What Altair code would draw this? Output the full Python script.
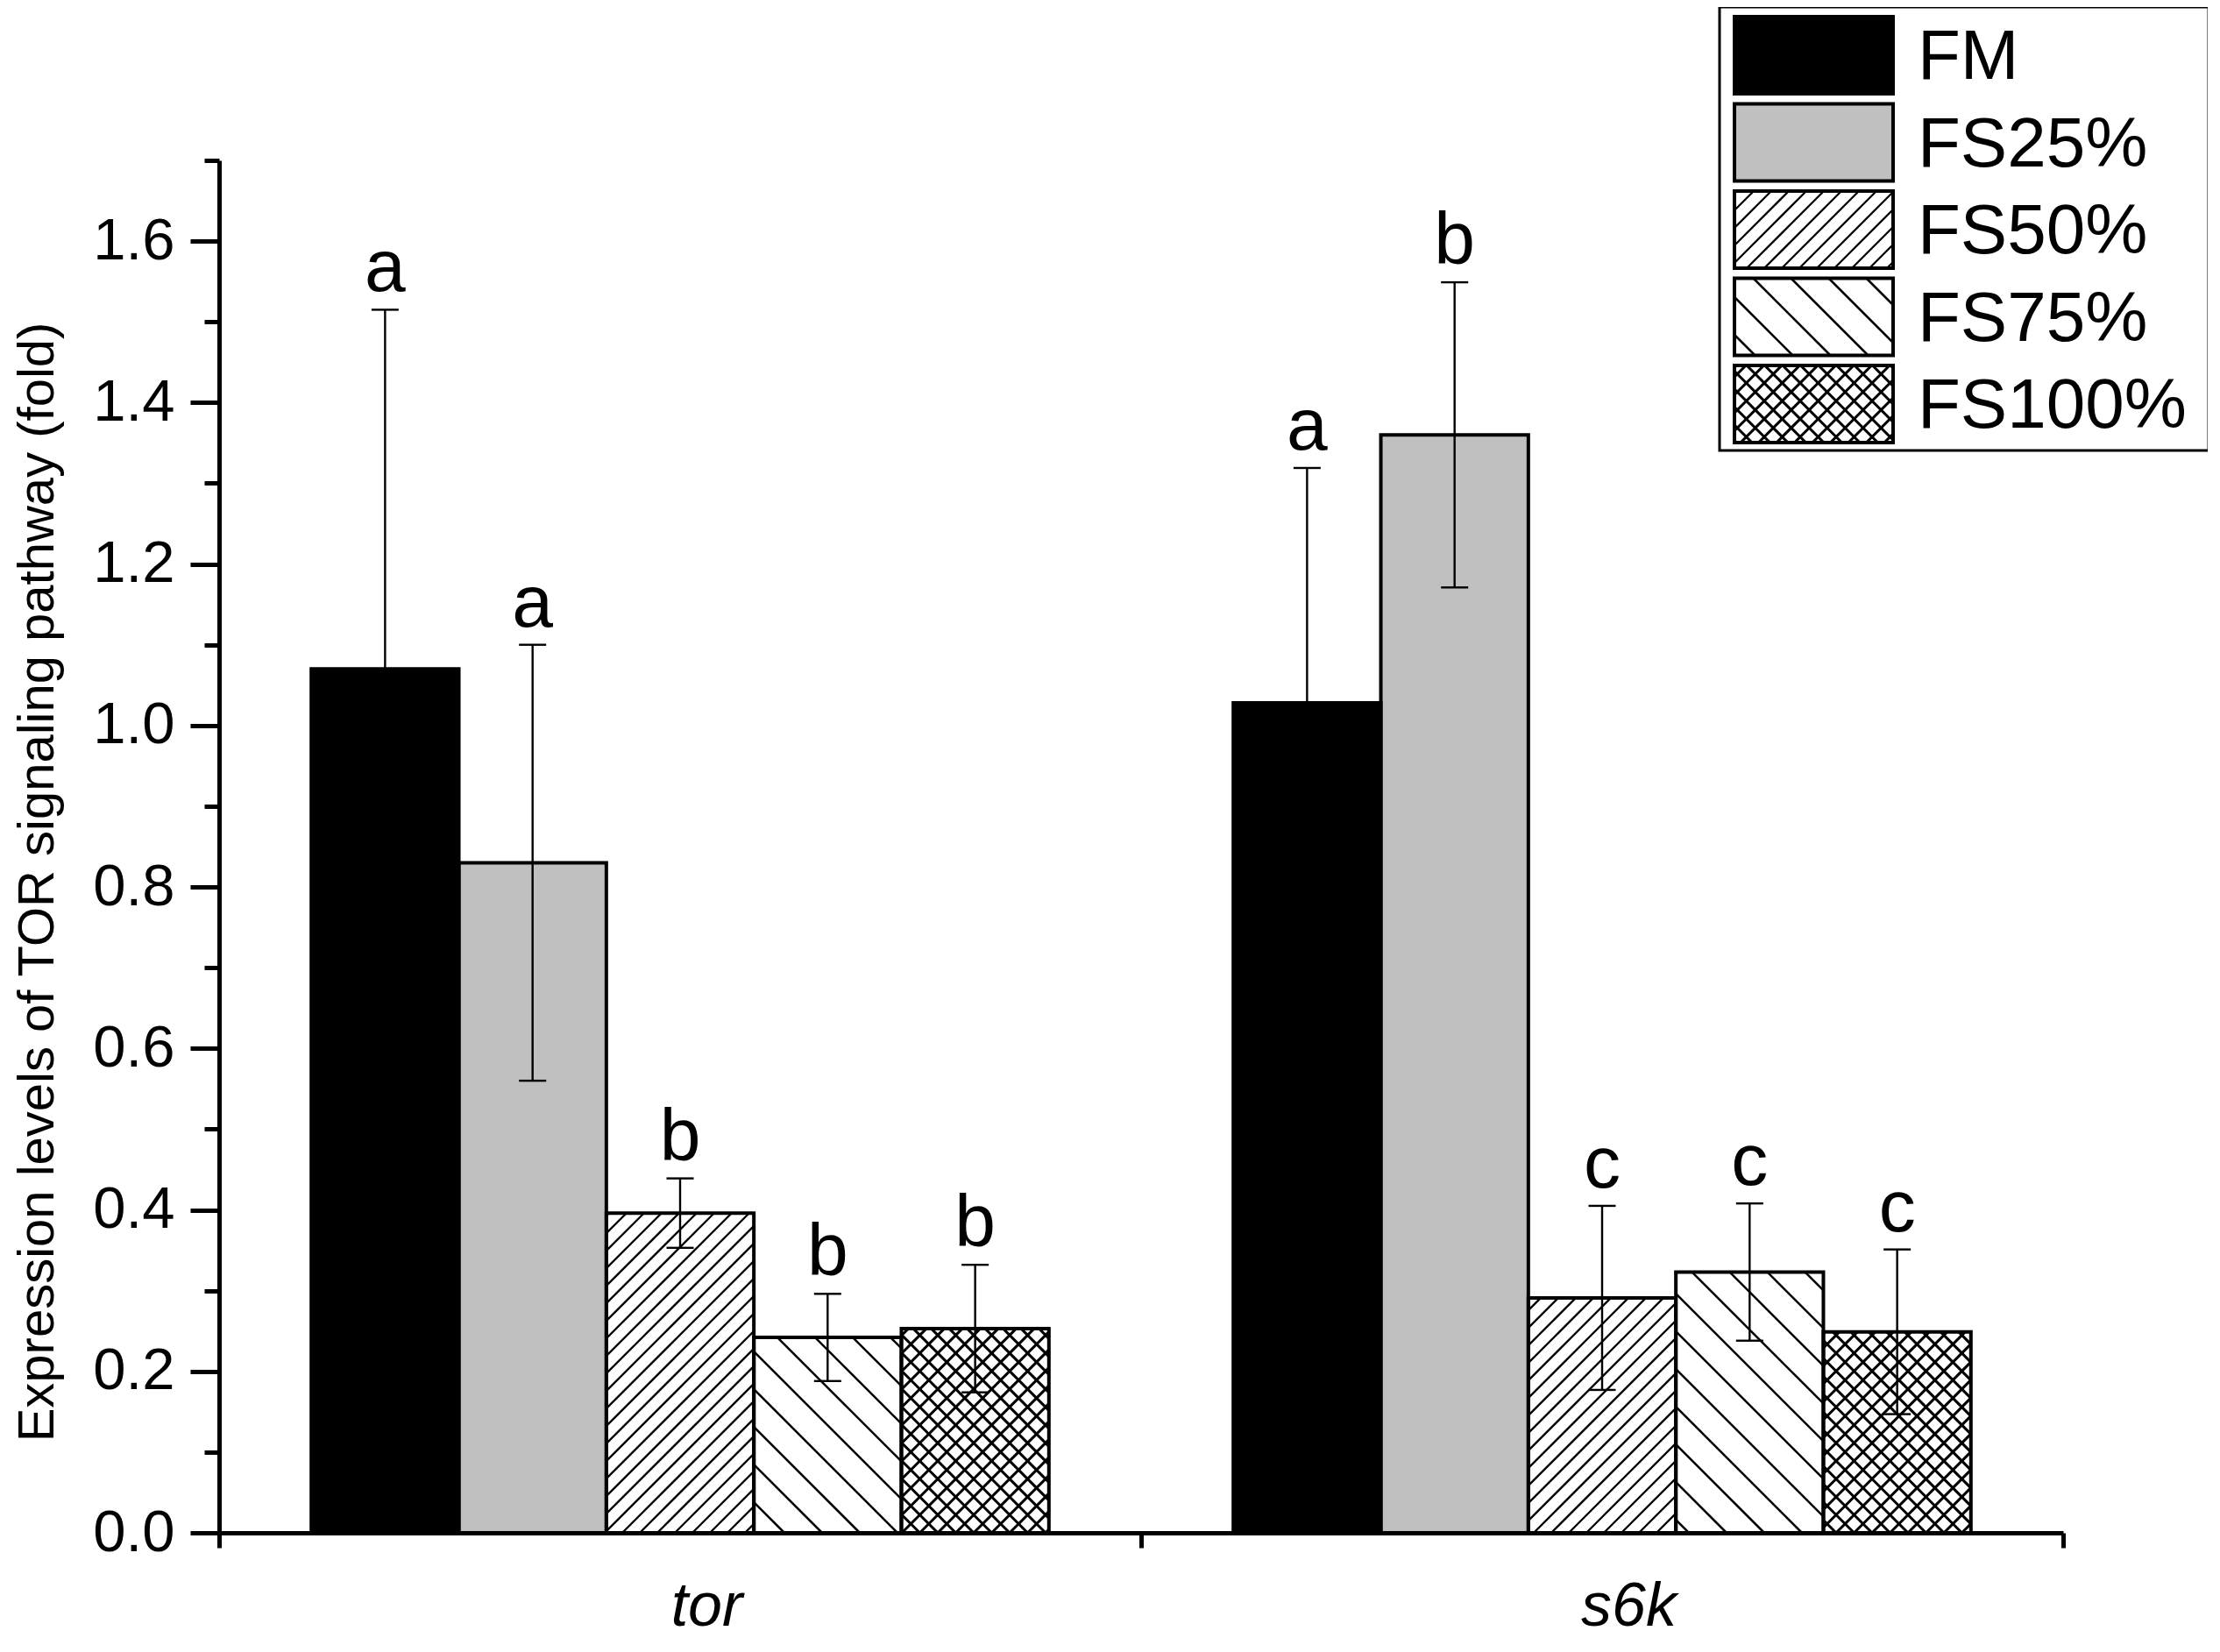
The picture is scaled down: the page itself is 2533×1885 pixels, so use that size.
import math
import altair as alt
import pandas as pd

# ---------------- data ----------------
genes = ["tor", "s6k"]
groups = ["FM", "FS25%", "FS50%", "FS75%", "FS100%"]
mean_tor = [1.070, 0.830, 0.396, 0.242, 0.253]
mean_s6k = [1.028, 1.360, 0.291, 0.323, 0.249]
err_tor = [0.445, 0.270, 0.043, 0.054, 0.079]
err_s6k = [0.291, 0.189, 0.114, 0.085, 0.102]
letters_tor = ["a", "a", "b", "b", "b"]
letters_s6k = ["a", "b", "c", "c", "c"]
y_ticks = [round(0.1 * i, 1) for i in range(18)]
y_title = "Expression levels of TOR signaling pathway (fold)"

# ---------------- styles / layout ----------------
PLOT_W, PLOT_H = 2104, 1566
X_MAX, Y_MAX = 2.0, 1.7
KX, KY = PLOT_W / X_MAX, PLOT_H / Y_MAX
PAD_OUTER, BAR_W = 0.1, 0.16
FONT = "Liberation Sans"
fills = ["#000000", "#c0c0c0", "#ffffff", "#ffffff", "#ffffff"]
hatches = [[], [], [("/", 20, 2.3)], [("\\", 43, 2.5)],
           [("/", 20.5, 3.1), ("\\", 20.5, 3.1)]]


def hatch_segments(x0, x1, y0, y1, kind, spacing, width):
    """Clip 45-degree hatch lines (in pixel space) to a rectangle given in data units."""
    X0, X1, Y0, Y1 = x0 * KX, x1 * KX, y0 * KY, y1 * KY
    out = []
    if kind == "/":
        c = math.floor((X0 - Y1) / spacing) * spacing
        while c <= X1 - Y0:
            xs, xe = max(X0, Y0 + c), min(X1, Y1 + c)
            if xe - xs > 0.5:
                out.append(dict(x=xs / KX, y=(xs - c) / KY, x2=xe / KX, y2=(xe - c) / KY, sw=width))
            c += spacing
    else:
        c = math.floor((X0 + Y0) / spacing) * spacing
        while c <= X1 + Y1:
            xs, xe = max(X0, c - Y1), min(X1, c - Y0)
            if xe - xs > 0.5:
                out.append(dict(x=xs / KX, y=(c - xs) / KY, x2=xe / KX, y2=(c - xe) / KY, sw=width))
            c += spacing
    return out


means = [mean_tor, mean_s6k]
errs = [err_tor, err_s6k]
letters = [letters_tor, letters_s6k]

bar_rows, hatch_rows, cap_rows = [], [], []
for g, gene in enumerate(genes):
    for i, grp in enumerate(groups):
        left = g + PAD_OUTER + BAR_W * i
        right = left + BAR_W
        m, e = means[g][i], errs[g][i]
        c = (left + right) / 2
        bar_rows.append(dict(gene=gene, group=grp, x=left, x2=right, y=0.0, y2=m,
                             xc=c, lo=m - e, hi=m + e, letter=letters[g][i], fill=fills[i]))
        cap_rows += [dict(xc=c, y=m - e), dict(xc=c, y=m + e)]
        for kind, sp, w in hatches[i]:
            hatch_rows += hatch_segments(left, right, 0.0, m, kind, sp, w)

bars = pd.DataFrame(bar_rows)
hatch_df = pd.DataFrame(hatch_rows)
caps = pd.DataFrame(cap_rows)


# legend, laid out in pixels relative to the plot's top-left corner
def px_x(p):
    return p / KX


def px_y(p):
    return Y_MAX - p / KY


LEG_BOX = (1712, 2270, -175, 331)
SW_X0, SW_X1, LBL_X = 1729, 1910, 1938
ROW_TOP0, ROW_PITCH, ROW_H, BASE_OFF = -164, 99.5, 88, 71

leg_rows, leg_hatch = [], []
for i, grp in enumerate(groups):
    top = ROW_TOP0 + ROW_PITCH * i
    x0, x1 = px_x(SW_X0), px_x(SW_X1)
    yb, yt = px_y(top + ROW_H), px_y(top)
    leg_rows.append(dict(group=grp, x=x0, x2=x1, y=yb, y2=yt, fill=fills[i],
                         tx=px_x(LBL_X), ty=px_y(top + BASE_OFF)))
    for kind, sp, w in hatches[i]:
        leg_hatch += hatch_segments(x0, x1, yb, yt, kind, sp, w)
leg = pd.DataFrame(leg_rows)
leg_hatch_df = pd.DataFrame(leg_hatch)
leg_box = pd.DataFrame([dict(x=px_x(LEG_BOX[0]), x2=px_x(LEG_BOX[1]),
                             y=px_y(LEG_BOX[3]), y2=px_y(LEG_BOX[2]))])

# ---------------- encodings ----------------
label_list = "[" + ",".join(f"'{g}'" for g in genes) + ",'']"
x_axis = alt.Axis(values=[0, 1, 2], labelExpr=f"{label_list}[datum.value]",
                  labelOffset={"condition": {"test": "datum.value >= 2", "value": 0},
                               "value": KX / 2 + 30},
                  labelFlush=False, labelOverlap=False,
                  labelFont=FONT, labelFontSize=70, labelFontStyle="italic",
                  labelColor="black", labelBaseline="alphabetic", labelPadding=88,
                  tickSize=17, tickWidth=5, tickColor="black",
                  domainWidth=5, domainColor="black", grid=False, title=None)
y_axis = alt.Axis(values=y_ticks,
                  labelExpr="round(datum.value*10) % 2 == 0 ? format(datum.value, '.1f') : ''",
                  labelOverlap=False, labelFont=FONT, labelFontSize=67, labelColor="black",
                  labelPadding=18,
                  tickSize={"condition": {"test": "round(datum.value*10) % 2 == 1", "value": 17},
                            "value": 33},
                  tickWidth=5, tickColor="black", domainWidth=5, domainColor="black",
                  grid=False, title=y_title, titleFont=FONT, titleFontSize=58,
                  titleFontWeight="normal", titleColor="black",
                  titleX=-190, titleY=823, titleBaseline="alphabetic")
xs = alt.Scale(domain=[0, X_MAX], nice=False, zero=False)
ys = alt.Scale(domain=[0, Y_MAX], nice=False, zero=False)


def X(f):
    return alt.X(f"{f}:Q", scale=xs, axis=x_axis)


def Y(f):
    return alt.Y(f"{f}:Q", scale=ys, axis=y_axis)


base_bars = alt.Chart(bars)
bar_fill = base_bars.mark_bar(strokeWidth=0).encode(
    x=X("x"), x2="x2", y=Y("y"), y2="y2", fill=alt.Fill("fill:N", scale=None))
hatch_layer = alt.Chart(hatch_df).mark_rule(color="black").encode(
    x=X("x"), x2="x2", y=Y("y"), y2="y2", strokeWidth=alt.StrokeWidth("sw:Q", scale=None))
bar_outline = base_bars.mark_bar(fillOpacity=0, stroke="black", strokeWidth=4).encode(
    x=X("x"), x2="x2", y=Y("y"), y2="y2")
err_line = base_bars.mark_rule(color="black", strokeWidth=2.4).encode(
    x=X("xc"), y=Y("lo"), y2="hi")
err_caps = alt.Chart(caps).mark_tick(orient="horizontal", size=31, thickness=2.4,
                                     color="black", opacity=1).encode(x=X("xc"), y=Y("y"))
letter_txt = base_bars.mark_text(font=FONT, fontSize=84, baseline="alphabetic",
                                 align="center", dy=-21, color="black").encode(
    x=X("xc"), y=Y("hi"), text="letter:N")

box = alt.Chart(leg_box).mark_rect(fill="white", stroke="black", strokeWidth=3).encode(
    x=X("x"), x2="x2", y=Y("y"), y2="y2")
leg_fill = alt.Chart(leg).mark_rect(strokeWidth=0).encode(
    x=X("x"), x2="x2", y=Y("y"), y2="y2", fill=alt.Fill("fill:N", scale=None))
leg_h = alt.Chart(leg_hatch_df).mark_rule(color="black").encode(
    x=X("x"), x2="x2", y=Y("y"), y2="y2", strokeWidth=alt.StrokeWidth("sw:Q", scale=None))
leg_out = alt.Chart(leg).mark_rect(fillOpacity=0, stroke="black", strokeWidth=4).encode(
    x=X("x"), x2="x2", y=Y("y"), y2="y2")
leg_txt = alt.Chart(leg).mark_text(font=FONT, fontSize=80, align="left",
                                   baseline="alphabetic", color="black").encode(
    x=X("tx"), y=Y("ty"), text="group:N")

chart = alt.layer(bar_fill, hatch_layer, bar_outline, err_line, err_caps, letter_txt,
                  box, leg_fill, leg_h, leg_out, leg_txt).properties(
    width=PLOT_W, height=PLOT_H, background="white",
    padding={"left": 242, "top": 175, "right": 165, "bottom": 127},
    autosize=alt.AutoSizeParams(type="none"),
).configure_view(stroke=None)

chart.save("out.html", embed_options={"renderer": "svg", "actions": False})
